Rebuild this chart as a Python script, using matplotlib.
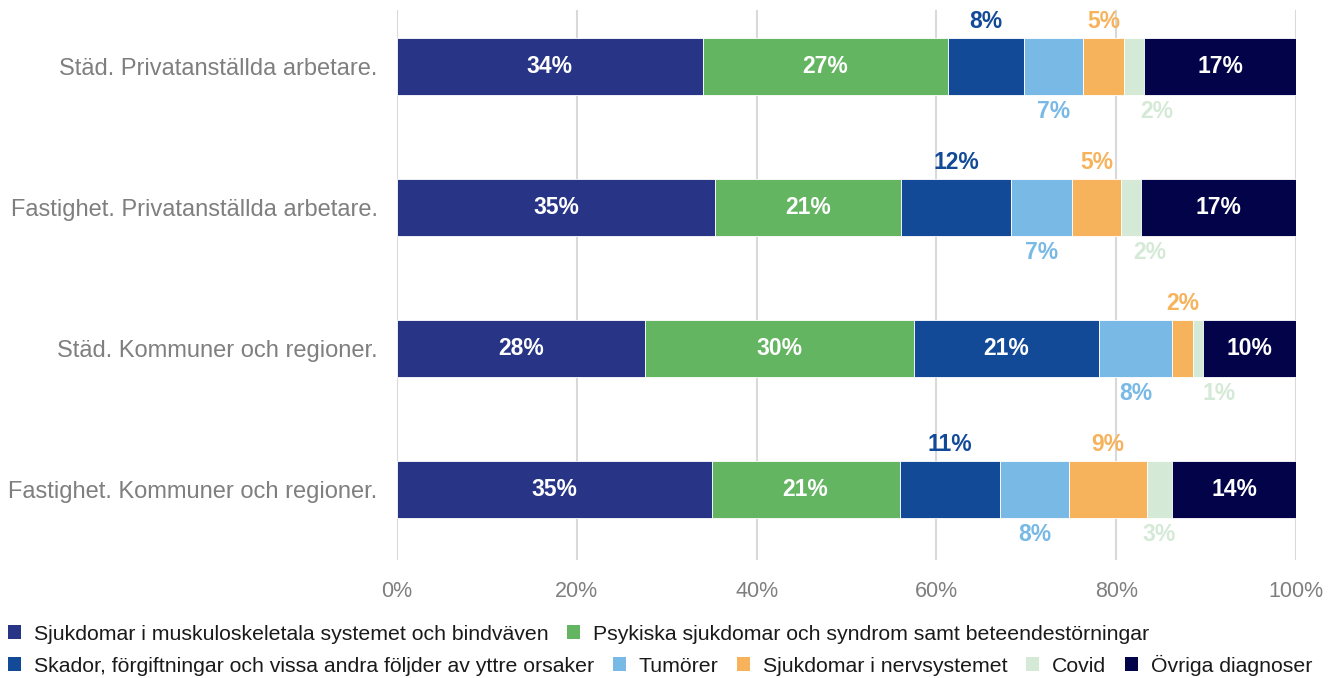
import matplotlib
matplotlib.use("Agg")
import matplotlib.pyplot as plt
from matplotlib.patches import Patch

categories = ["Städ. Privatanställda arbetare.",
              "Fastighet. Privatanställda arbetare.",
              "Städ. Kommuner och regioner.",
              "Fastighet. Kommuner och regioner."]

series_names = ["Sjukdomar i muskuloskeletala systemet och bindväven",
                "Psykiska sjukdomar och syndrom samt beteendestörningar",
                "Skador, förgiftningar och vissa andra följder av yttre orsaker",
                "Tumörer",
                "Sjukdomar i nervsystemet",
                "Covid",
                "Övriga diagnoser"]

musk = [34.0, 35.4, 27.6, 35.0]
psyk = [27.3, 20.7, 29.9, 20.9]
skador = [8.4, 12.2, 20.6, 11.2]
tumorer = [6.6, 6.8, 8.1, 7.6]
nerv = [4.6, 5.4, 2.3, 8.7]
covid = [2.2, 2.3, 1.1, 2.8]
ovriga = [16.9, 17.2, 10.4, 13.8]

series = [musk, psyk, skador, tumorer, nerv, covid, ovriga]
colors = ["#283587", "#64b561", "#124a98", "#78b9e5", "#f6b35c", "#d4e9d6", "#03034a"]
label_pos = ["in", "in", "above", "below", "above", "below", "in"]
covid_shift = [2.5, 2.1, 2.4, 0.0]

plt.rcParams['font.family'] = ['Liberation Sans', 'DejaVu Sans']

fig = plt.figure(figsize=(13.33, 6.78), dpi=100)
ax = fig.add_axes([397/1333, 1-560/678, 899/1333, 550/678])

ypos = list(range(len(categories)))
bar_h = 0.404
lefts = [0.0]*len(categories)
for si, (vals, col) in enumerate(zip(series, colors)):
    ax.barh(ypos, vals, left=lefts, height=bar_h, color=col,
            edgecolor="white", linewidth=0.6, zorder=3)
    for ri, v in enumerate(vals):
        cx = lefts[ri] + v/2
        txt = f"{round(v):.0f}%"
        pos = label_pos[si]
        if pos != "in" and v >= 15:
            pos = "in"
        if pos == "in":
            ax.text(cx, ri, txt, ha="center", va="center", color="white",
                    fontsize=16.5, fontweight="bold", zorder=4)
        elif pos == "above":
            ax.text(cx, ri - 0.32, txt, ha="center", va="center", color=col,
                    fontsize=16.5, fontweight="bold", zorder=4)
        else:
            if si == 5:
                cx += covid_shift[ri]
            ax.text(cx, ri + 0.32, txt, ha="center", va="center", color=col,
                    fontsize=16.5, fontweight="bold", zorder=4)
    lefts = [l + v for l, v in zip(lefts, vals)]

ax.set_xlim(0, 100)
ax.set_ylim(3.5, -0.404)
ax.set_xticks([0, 20, 40, 60, 80, 100])
ax.set_xticklabels([f"{t}%" for t in [0, 20, 40, 60, 80, 100]])
ax.set_yticks(ypos)
ax.set_yticklabels(categories)
ax.grid(axis="x", color="#d9d9d9", linewidth=1.5, zorder=0)
ax.grid(axis="y", visible=False)
for s in ax.spines.values():
    s.set_visible(False)
ax.tick_params(axis="both", length=0, colors="#7f7f7f")
ax.tick_params(axis="y", pad=14, labelsize=17)
ax.tick_params(axis="x", pad=15, labelsize=15.5)
for lab in ax.get_xticklabels():
    lab.set_color("#7f7f7f")
for lab in ax.get_yticklabels():
    lab.set_color("#7f7f7f")

handles = [Patch(facecolor=c, edgecolor="none", label=n) for c, n in zip(colors, series_names)]
common = dict(frameon=False, fontsize=15.3, handlelength=0.6, handleheight=0.6,
              handletextpad=0.6, columnspacing=0.9, borderpad=0, borderaxespad=0,
              labelcolor="#1a1a1a")
leg1 = fig.legend(handles=handles[:2], ncol=2, loc="center left",
                  bbox_to_anchor=(8/1333, 1-634/678), **common)
leg2 = fig.legend(handles=handles[2:], ncol=5, loc="center left",
                  bbox_to_anchor=(8/1333, 1-665/678), **common)

fig.savefig("out.png", dpi=100)
